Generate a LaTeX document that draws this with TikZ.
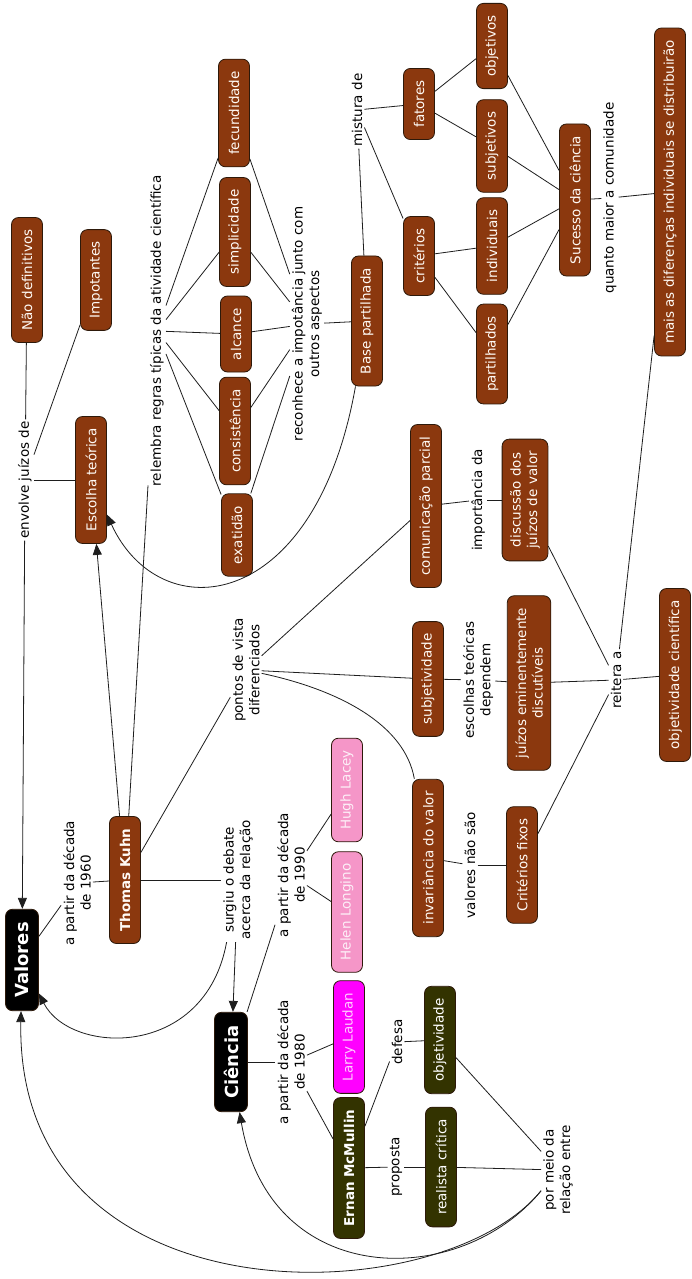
\documentclass[tikz,border=0pt]{standalone}
\usepackage{fontspec}
\setmainfont{DejaVu Sans}
\usetikzlibrary{arrows.meta}
\definecolor{brownbox}{RGB}{139,56,14}
\definecolor{pinkbox}{RGB}{245,150,200}
\definecolor{magbox}{RGB}{255,0,255}
\definecolor{olivebox}{RGB}{51,51,0}
\definecolor{boxline}{RGB}{45,25,10}
\definecolor{linkline}{RGB}{30,30,30}
\begin{document}
\begin{tikzpicture}[x=1pt,y=-1pt,
  every node/.style={rotate=90, font=\fontsize{13.5}{16.5}\selectfont},
  concept/.style={draw=boxline, line width=0.8pt, rounded corners=7pt, minimum height=31pt, inner xsep=12pt, inner ysep=8pt, align=center},
  brownc/.style={concept, fill=brownbox, text=white!96!orange},
  pinkc/.style={concept, fill=pinkbox, text=white!85!pinkbox},
  magc/.style={concept, fill=magbox, text=white!80!magbox},
  olivec/.style={concept, fill=olivebox, text=white},
  blackc/.style={concept, fill=black, text=white, minimum height=33pt, inner xsep=13pt, font=\fontsize{18}{20}\selectfont\bfseries},
  boldtxt/.style={font=\fontsize{13.5}{16.5}\selectfont\bfseries},
  lab/.style={inner sep=2pt, align=center, text=black},
  conn/.style={draw=linkline, line width=0.8pt},
  arr/.style={conn, -{Triangle[length=11pt,width=9pt]}},
]
\fill[white] (0,0) rectangle (691,1279);
\useasboundingbox (0,0) rectangle (691,1279);

% concepts
\node[blackc] (valores) at (22,960) {Valores};
\node[blackc] (ciencia) at (231,1062) {Ciência};
\node[brownc] (nao) at (27,280) {Não definitivos};
\node[brownc] (impot) at (96,280) {Impotantes};
\node[brownc] (escolha) at (91,480) {Escolha teórica};
\node[brownc] (fec) at (234,113) {fecundidade};
\node[brownc] (simp) at (235,232) {simplicidade};
\node[brownc] (alc) at (236,334) {alcance};
\node[brownc] (cons) at (235,431) {consistência};
\node[brownc] (exat) at (237,535) {exatidão};
\node[brownc] (base) at (367,321) {Base partilhada};
\node[brownc] (fatores) at (419,104) {fatores};
\node[brownc] (criterios) at (419,256) {critérios};
\node[brownc] (objetivos) at (492,46) {objetivos};
\node[brownc] (subjetivos) at (492,146) {subjetivos};
\node[brownc] (individuais) at (492,246) {individuais};
\node[brownc] (partilhados) at (492,354) {partilhados};
\node[brownc] (sucesso) at (575,200) {Sucesso da ciência};
\node[brownc] (mais) at (670,192) {mais as diferenças individuais se distribuirão};
\node[brownc] (comun) at (426,506) {comunicação parcial};
\node[brownc] (disc) at (525,500) {discussão dos\\juízos de valor};
\node[brownc] (subj) at (428,679) {subjetividade};
\node[brownc] (juizos) at (529,683) {juízos eminentemente\\discutíveis};
\node[brownc] (objc) at (675,675) {objetividade científica};
\node[brownc] (inv) at (428,858) {invariância do valor};
\node[brownc] (fixos) at (522,865) {Critérios fixos};
\node[brownc, boldtxt] (kuhn) at (125,880) {Thomas Kuhn};
\node[pinkc] (hugh) at (347,790) {Hugh Lacey};
\node[pinkc] (helen) at (347,912) {Helen Longino};
\node[magc] (larry) at (349,1037) {Larry Laudan};
\node[olivec, boldtxt] (ernan) at (349,1168) {Ernan McMullin};
\node[olivec] (objt) at (440,1040) {objetividade};
\node[olivec] (realista) at (441,1167) {realista crítica};

% linking phrases
\node[lab] (envolve) at (25,480) {envolve juízos de};
\node[lab] (relembra) at (157,331) {relembra regras típicas da atividade científica};
\node[lab] (reconhece) at (307,324) {reconhece a impotância junto com\\outros aspectos};
\node[lab] (mistura) at (357,110) {mistura de};
\node[lab] (quanto) at (610,198) {quanto maior a comunidade};
\node[lab] (importancia) at (478,500) {importância da};
\node[lab] (escolhas) at (478,680) {escolhas teóricas\\dependem};
\node[lab] (reitera) at (616,680) {reitera a};
\node[lab] (pontos) at (246,670) {pontos de vista\\diferenciados};
\node[lab] (valnao) at (470,865) {valores não são};
\node[lab] (d1960) at (77,883) {a partir da década\\de 1960};
\node[lab] (surgiu) at (238,880) {surgiu o debate\\acerca da relação};
\node[lab] (d1990) at (291,875) {a partir da década\\de 1990};
\node[lab] (d1980) at (291,1062) {a partir da década\\de 1980};
\node[lab] (defesa) at (397,1042) {defesa};
\node[lab] (proposta) at (396,1167) {proposta};
\node[lab] (pormeio) at (558,1170) {por meio da\\relação entre};

% connectors
\draw[conn] (nao) -- (envolve);
\draw[conn] (impot) -- (envolve);
\draw[conn] (escolha) -- (envolve);
\draw[arr] (envolve) -- (valores);
\draw[arr] (kuhn) -- (escolha);
\draw[conn] (kuhn) -- (relembra);
\foreach \n in {fec,simp,alc,cons,exat}{
  \draw[conn] (relembra) -- (\n);
  \draw[conn] (\n) -- (reconhece);
}
\draw[conn] (reconhece) -- (base);
\draw[arr] (base) .. controls (315,615) and (160,630) .. (escolha);
\draw[conn] (base) -- (mistura);
\draw[conn] (mistura) -- (fatores);
\draw[conn] (mistura) -- (criterios);
\draw[conn] (fatores) -- (objetivos);
\draw[conn] (fatores) -- (subjetivos);
\draw[conn] (criterios) -- (individuais);
\draw[conn] (criterios) -- (partilhados);
\foreach \n in {objetivos,subjetivos,individuais,partilhados}{
  \draw[conn] (\n) -- (sucesso);
}
\draw[conn] (sucesso) -- (quanto);
\draw[conn] (quanto) -- (mais);
\draw[conn] (mais) -- (reitera);
\draw[conn] (reitera) -- (objc);
\draw[conn] (disc) -- (reitera);
\draw[conn] (juizos) -- (reitera);
\draw[conn] (fixos) -- (reitera);
\draw[conn] (comun) -- (importancia);
\draw[conn] (importancia) -- (disc);
\draw[conn] (subj) -- (escolhas);
\draw[conn] (escolhas) -- (juizos);
\draw[conn] (kuhn) -- (pontos);
\draw[conn] (pontos) -- (comun);
\draw[conn] (pontos) -- (subj);
\draw[conn] (pontos) .. controls (340,690) and (405,725) .. (inv);
\draw[conn] (inv) -- (valnao);
\draw[conn] (valnao) -- (fixos);
\draw[conn] (kuhn) -- (d1960);
\draw[conn] (d1960) -- (valores);
\draw[conn] (kuhn) -- (surgiu);
\draw[arr] (surgiu) -- (ciencia);
\draw[arr] (surgiu) .. controls (205,1060) and (70,1055) .. (valores);
\draw[conn] (ciencia) -- (d1990);
\draw[conn] (d1990) -- (hugh);
\draw[conn] (d1990) -- (helen);
\draw[conn] (ciencia) -- (d1980);
\draw[conn] (d1980) -- (larry);
\draw[conn] (d1980) -- (ernan);
\draw[conn] (ernan) -- (defesa);
\draw[conn] (defesa) -- (objt);
\draw[conn] (ernan) -- (proposta);
\draw[conn] (proposta) -- (realista);
\draw[conn] (objt) -- (pormeio);
\draw[conn] (realista) -- (pormeio);
\draw[arr] (pormeio) .. controls (460,1290) and (270,1290) .. (ciencia);
\draw[arr] (pormeio) .. controls (440,1315) and (15,1325) .. (valores);
\end{tikzpicture}
\end{document}
